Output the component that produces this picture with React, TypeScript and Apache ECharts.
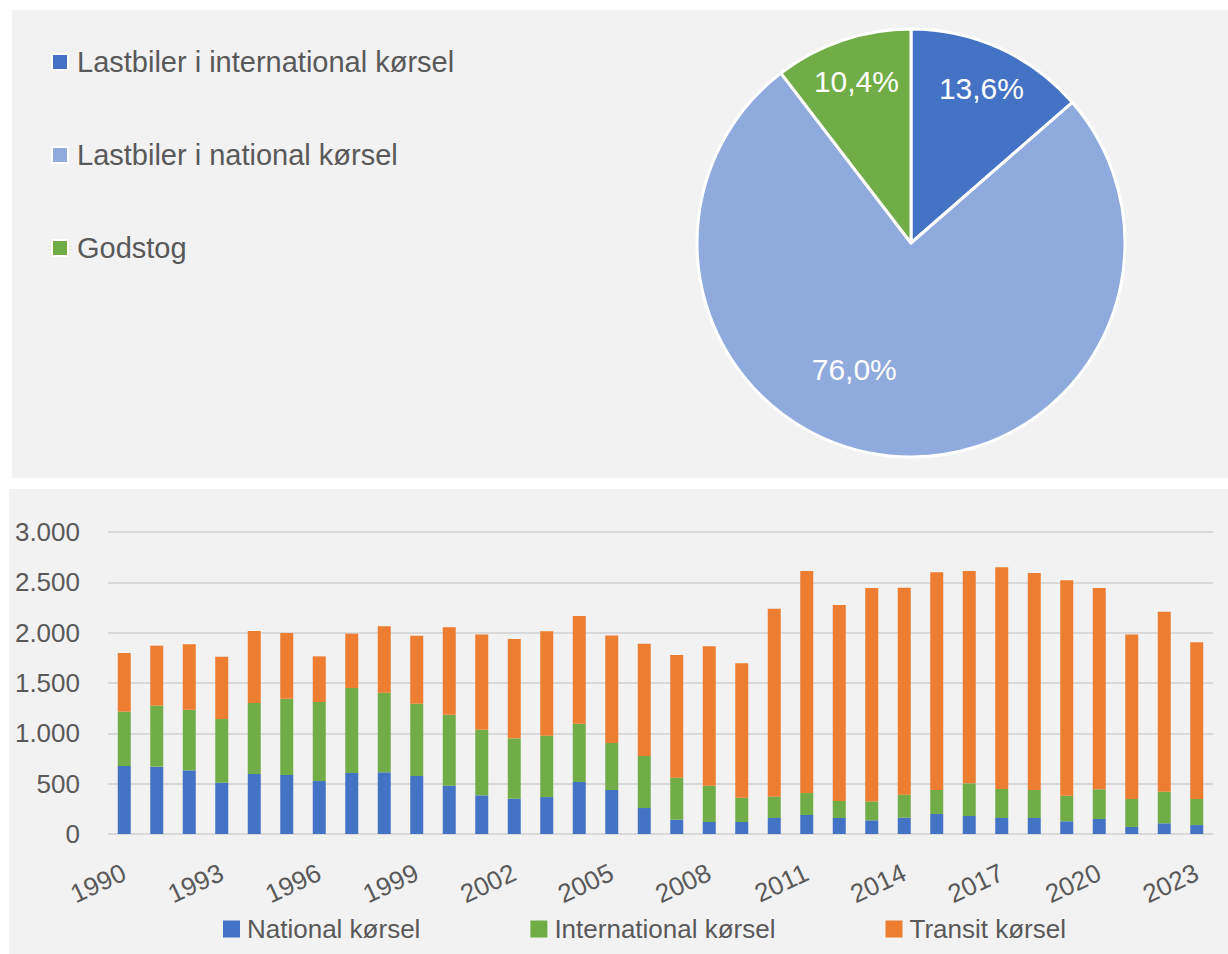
import React, { useEffect, useRef } from 'react';
import * as echarts from 'echarts';

const FONT = "'Liberation Sans', Arial, sans-serif";
const TEXT_COLOR = '#595959';

// Pie (top panel)
const pieNames = ['Lastbiler i international kørsel', 'Lastbiler i national kørsel', 'Godstog'];
const pieValues = [13.6, 76.0, 10.4];
const pieColors = ['#4472C4', '#8FAADC', '#70AD47'];

// Stacked bars (bottom panel)
const years = [
  '1990', '1991', '1992', '1993', '1994', '1995', '1996', '1997', '1998', '1999',
  '2000', '2001', '2002', '2003', '2004', '2005', '2006', '2007', '2008', '2009',
  '2010', '2011', '2012', '2013', '2014', '2015', '2016', '2017', '2018', '2019',
  '2020', '2021', '2022', '2023',
];
const national = [
  675, 669, 632, 510, 596, 586, 526, 606, 613, 576,
  480, 384, 351, 367, 517, 437, 258, 142, 119, 119,
  159, 189, 159, 136, 162, 199, 179, 159, 159, 126,
  149, 70, 106, 89,
];
const international = [
  540, 606, 603, 632, 705, 758, 785, 844, 791, 719,
  705, 652, 599, 610, 579, 467, 517, 418, 361, 242,
  212, 218, 169, 188, 229, 238, 324, 288, 278, 255,
  295, 278, 314, 259,
];
const transit = [
  583, 596, 649, 619, 715, 653, 454, 540, 659, 675,
  868, 947, 987, 1036, 1069, 1069, 1116, 1218, 1384, 1334,
  1867, 2205, 1947, 2120, 2056, 2162, 2109, 2202, 2156, 2139,
  2000, 1635, 1788, 1556,
];
const barNames = ['National kørsel', 'International kørsel', 'Transit kørsel'];
const barColors = ['#4472C4', '#70AD47', '#ED7D31'];
const yMax = 3000;
const yInterval = 500;

function fmtThousands(v: number): string {
  const s = String(Math.round(v));
  return s.replace(/\B(?=(\d{3})+(?!\d))/g, '.');
}

const PIE_CENTER = [911, 243];
const PIE_R = 214;

const pctFormatter = (p: any) => p.value.toFixed(1).replace('.', ',') + '%';

// transparent overlay pie used only to place the percentage labels
function labelPie(innerR: number, showIdx: number[], padding: number[]) {
  return {
    type: 'pie',
    name: 'labels' + innerR,
    center: PIE_CENTER,
    radius: [innerR, PIE_R],
    startAngle: 90,
    clockwise: true,
    avoidLabelOverlap: false,
    silent: true,
    z: 5,
    itemStyle: { color: 'rgba(0,0,0,0)', borderWidth: 0 },
    emphasis: { disabled: true },
    labelLine: { show: false },
    label: {
      show: true,
      position: 'inside',
      color: '#ffffff',
      fontFamily: FONT,
      fontSize: 30,
      padding,
      formatter: pctFormatter,
    },
    data: pieNames.map((n, i) => ({
      name: n,
      value: pieValues[i],
      label: { show: showIdx.indexOf(i) >= 0 },
    })),
  };
}

export default function App() {
  const ref = useRef<HTMLDivElement>(null);

  useEffect(() => {
    if (!ref.current) return;
    const chart = echarts.init(ref.current, undefined, { renderer: 'svg' });

    const option: any = {
      animation: false,
      backgroundColor: '#ffffff',
      textStyle: { fontFamily: FONT },
      graphic: [
        { type: 'rect', z: -10, silent: true, shape: { x: 12, y: 10, width: 1216, height: 468 }, style: { fill: '#f2f2f2' } },
        { type: 'rect', z: -10, silent: true, shape: { x: 9, y: 489, width: 1219, height: 465 }, style: { fill: '#f2f2f2' } },
      ],
      legend: [
        {
          data: pieNames,
          orient: 'vertical',
          left: 46,
          top: 40,
          itemWidth: 16,
          itemHeight: 16,
          itemGap: 59,
          icon: 'rect',
          selectedMode: false,
          itemStyle: { borderColor: '#ffffff', borderWidth: 2 },
          textStyle: { fontFamily: FONT, fontSize: 29, color: TEXT_COLOR, lineHeight: 34, padding: [0, 0, 0, 4] },
        },
        {
          data: barNames,
          orient: 'horizontal',
          left: 218,
          top: 909,
          itemWidth: 17,
          itemHeight: 17,
          itemGap: 110,
          icon: 'rect',
          selectedMode: false,
          itemStyle: { borderWidth: 0 },
          textStyle: { fontFamily: FONT, fontSize: 26, color: TEXT_COLOR, lineHeight: 30, padding: [0, 0, 0, 2] },
        },
      ],
      grid: { left: 108, right: 15, top: 532, bottom: 120, containLabel: false },
      xAxis: {
        type: 'category',
        data: years,
        axisLine: { show: false },
        axisTick: { show: false },
        axisLabel: {
          interval: 2,
          rotate: 25,
          margin: 37,
          fontFamily: FONT,
          fontSize: 26,
          color: TEXT_COLOR,
        },
      },
      yAxis: {
        type: 'value',
        min: 0,
        max: yMax,
        interval: yInterval,
        axisLine: { show: false },
        axisTick: { show: false },
        splitLine: { lineStyle: { color: '#d9d9d9', width: 2 } },
        axisLabel: {
          margin: 28,
          fontFamily: FONT,
          fontSize: 26,
          color: TEXT_COLOR,
          formatter: (v: number) => fmtThousands(v),
        },
      },
      series: [
        {
          type: 'pie',
          name: 'Andel',
          center: PIE_CENTER,
          radius: PIE_R,
          startAngle: 90,
          clockwise: true,
          avoidLabelOverlap: false,
          silent: true,
          itemStyle: { borderColor: '#ffffff', borderWidth: 3 },
          label: { show: false },
          labelLine: { show: false },
          data: pieNames.map((n, i) => ({
            name: n,
            value: pieValues[i],
            itemStyle: { color: pieColors[i] },
          })),
        },
        labelPie(120, [0, 2], [0, 0, 0, 0]),
        labelPie(34, [1], [0, 88, 0, 0]),
        ...[national, international, transit].map((vals, i) => ({
          type: 'bar',
          name: barNames[i],
          stack: 'total',
          barWidth: 13,
          silent: true,
          itemStyle: { color: barColors[i] },
          data: vals,
        })),
      ],
    };

    chart.setOption(option);
    return () => chart.dispose();
  }, []);

  return (
    <div
      ref={ref}
      style={{ position: 'absolute', left: 0, top: 0, width: 1228, height: 954, background: '#ffffff' }}
    />
  );
}
